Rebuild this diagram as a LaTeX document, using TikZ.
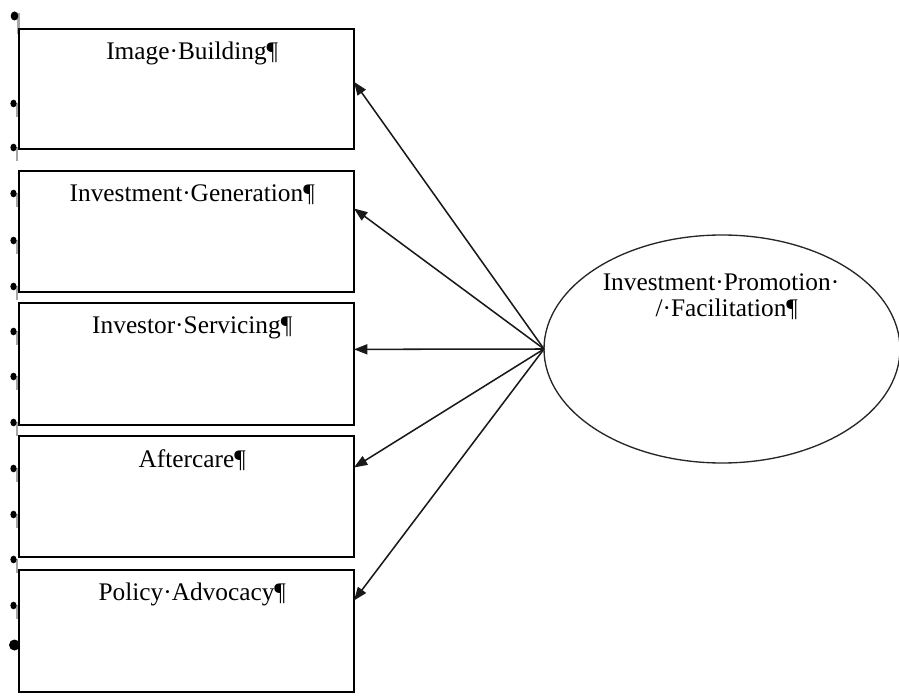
\documentclass[tikz,border=0pt]{standalone}
\usepackage{fontspec}
\setmainfont{Liberation Serif}
\usetikzlibrary{arrows.meta,shapes.geometric,calc}
\begin{document}
\begin{tikzpicture}[x=0.75pt,y=-0.75pt,
  box/.style={draw=black,line width=1.35pt,minimum width=251.25pt,inner sep=0pt,outer sep=0pt},
  lbl/.style={anchor=base,inner sep=0pt,outer sep=0pt,font=\fontsize{19}{19.5}\selectfont},
  hub/.style={draw=black!85,line width=1pt,ellipse,minimum width=267pt,minimum height=171pt,inner sep=0pt,outer sep=0pt},
  link/.style={draw=black!90,line width=1.15pt,-{Triangle[length=10pt,width=7.5pt]}},
  pmark/.style={fill=black},
  ptail/.style={fill=black!35}]
\useasboundingbox (0,0) rectangle (899,698);

% paragraph marks along the left margin
\fill[ptail] (16.5,13) rectangle (19.5,34);
\fill[pmark] (14.5,16) ellipse (3.8 and 4.5);
\foreach \y in {103,147,193,240,286,331,376,422,468,514,559,605}{
  \fill[ptail] (15.5,\y) rectangle (18,\y+14);
  \fill[pmark] (13.5,\y+0.5) ellipse (3.1 and 3.8);
}
\fill[pmark] (14.5,645) circle (5.5);

% activity boxes
\node[box,minimum height=90pt]    (b1) at (186.5,89)    {};
\node[box,minimum height=90.75pt] (b2) at (186.5,231.5) {};
\node[box,minimum height=91.5pt]  (b3) at (186.5,364)   {};
\node[box,minimum height=90.75pt] (b4) at (186.5,496.5) {};
\node[box,minimum height=91.5pt]  (b5) at (186.5,631)   {};

\node[lbl] (t1) at (186.5,60)  {Image·Building\rlap{¶}};
\node[lbl] (t2) at (186.5,202) {Investment·Generation\rlap{¶}};
\node[lbl] (t3) at (186.5,334) {Investor·Servicing\rlap{¶}};
\node[lbl] (t4) at (186.5,467) {Aftercare\rlap{¶}};
\node[lbl] (t5) at (186.5,600) {Policy·Advocacy\rlap{¶}};

% central function (base anchor sits on the last line)
\node[hub] (hub) at (722,349) {};
\node[lbl,align=center] (ht) at (721,317) {Investment·Promotion·\\/·Facilitation\rlap{¶}};

% arrow targets on the right edges of the boxes
\coordinate (e1) at ($(b1.north east)!0.44!(b1.south east)$);
\coordinate (e2) at ($(b2.north east)!0.31!(b2.south east)$);
\coordinate (e3) at ($(b3.north east)!0.38!(b3.south east)$);
\coordinate (e4) at ($(b4.north east)!0.26!(b4.south east)$);
\coordinate (e5) at ($(b5.north east)!0.25!(b5.south east)$);

\foreach \k in {1,...,5}{
  \draw[link] (hub.west) -- (e\k);
}
\end{tikzpicture}
\end{document}
